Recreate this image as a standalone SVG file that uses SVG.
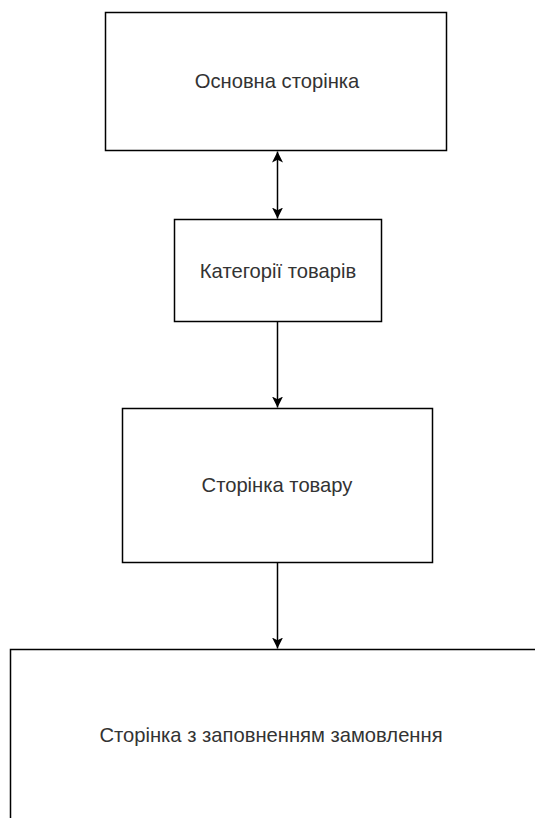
<svg xmlns="http://www.w3.org/2000/svg" width="535" height="818" viewBox="0 0 535 818">
<style>
.box{fill:#fff;stroke:#000;stroke-width:1.5}
.lbl{font-family:"Liberation Sans",Arial,sans-serif;font-size:20.2px;fill:#333;text-anchor:middle;dominant-baseline:central}
.edge{stroke:#000;stroke-width:1.5;fill:none}
</style>
<defs>
<marker id="ah" viewBox="0 0 10 10" refX="10" refY="5" markerWidth="11" markerHeight="11" markerUnits="userSpaceOnUse" orient="auto-start-reverse">
<path d="M0,0 L10,5 L0,10 L2.5,5 Z" fill="#000"/>
</marker>
</defs>
<rect width="535" height="818" fill="#fff"/>
<g id="n1"><rect class="box" x="105.5" y="12.5" width="341" height="138"/><text class="lbl" x="277" y="81">Основна сторінка</text></g>
<g id="n2"><rect class="box" x="174.5" y="219.5" width="207" height="102"/><text class="lbl" x="278" y="271">Категорії товарів</text></g>
<g id="n3"><rect class="box" x="122.5" y="408.5" width="310" height="154"/><text class="lbl" x="277" y="485">Сторінка товару</text></g>
<g id="n4"><rect class="box" x="10.5" y="649.5" width="600" height="300"/><text class="lbl" x="271" y="735">Сторінка з заповненням замовлення</text></g>
<g id="edges">
<line class="edge" x1="277.5" y1="151.5" x2="277.5" y2="218.5" marker-start="url(#ah)" marker-end="url(#ah)"/>
<line class="edge" x1="277.5" y1="322" x2="277.5" y2="407.5" marker-end="url(#ah)"/>
<line class="edge" x1="277.5" y1="563" x2="277.5" y2="648.5" marker-end="url(#ah)"/>
</g>
</svg>
